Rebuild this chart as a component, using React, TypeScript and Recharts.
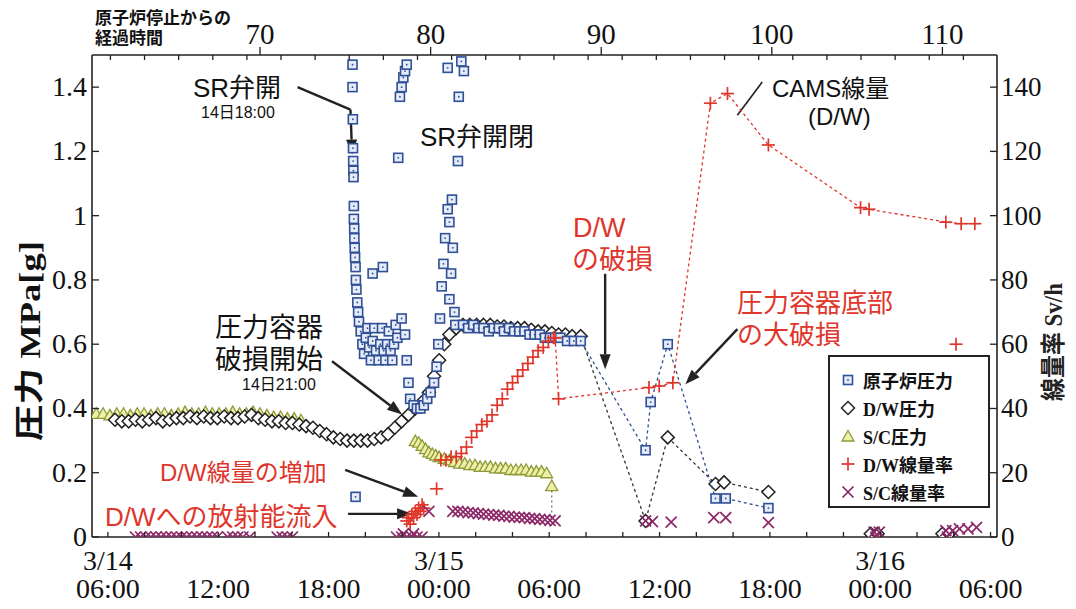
import React from 'react';
import { ComposedChart, Scatter, XAxis, YAxis, ReferenceLine } from 'recharts';

const W = 1060;
const H = 595;
const BLUE = '#2f4f96';
const BLACK = '#222222';
const OLIVE = '#8e9a38';
const RED = '#e0352b';
const PURPLE = '#8c2868';
const SERIF = "'Liberation Serif','Times New Roman',serif";
const SANS = "'Liberation Sans','Noto Sans CJK JP',sans-serif";
const JPSERIF = "'Liberation Serif','Noto Sans CJK JP',serif";

// ---- axis ticks ----
const topMajorTicks = [70, 80, 90, 100, 110];
const topMinorTicks = [61.23, 63.23, 65.23, 67.23, 69.23, 71.23, 73.23, 75.23, 77.23, 79.23, 81.23, 83.23, 85.23, 87.23, 89.23, 91.23, 93.23, 95.23, 97.23, 99.23, 101.23, 103.23, 105.23, 107.23, 109.23, 111.23];
const bottomTicks = [0, 2, 4, 6, 8, 10, 12, 14, 16, 18, 20, 22, 24, 26, 28, 30, 32, 34, 36, 38, 40, 42, 44, 46, 48];
const bottomLabelHours = [0, 6, 12, 18, 24, 30, 36, 42, 48];
const bottomDates = ['3/14', '', '', '3/15', '', '', '', '3/16', ''];
const bottomTimes = ['06:00', '12:00', '18:00', '00:00', '06:00', '12:00', '18:00', '00:00', '06:00'];
const leftTicks = [0, 0.2, 0.4, 0.6, 0.8, 1, 1.2, 1.4];
const rightTicks = [0, 20, 40, 60, 80, 100, 120, 140];

// ---- data: [hours since shutdown, value] ----
// 原子炉圧力 (MPa)
const reactorPressure = [
  [75.6, 0.125],
  [75.42, 1.47], [75.42, 1.4], [75.44, 1.3], [75.45, 1.21], [75.46, 1.17], [75.47, 1.14], [75.48, 1.12], [75.5, 1.03], [75.5, 0.99], [75.52, 0.96], [75.53, 0.93], [75.55, 0.9], [75.57, 0.87], [75.6, 0.84], [75.62, 0.8], [75.65, 0.77], [75.7, 0.73], [75.75, 0.7], [75.8, 0.67],
  [75.9, 0.64], [76.0, 0.6], [76.1, 0.57], [76.2, 0.62], [76.3, 0.65], [76.4, 0.59], [76.5, 0.55], [76.6, 0.61], [76.7, 0.65], [76.8, 0.58], [76.95, 0.55], [77.05, 0.6], [77.15, 0.65], [77.25, 0.58], [77.35, 0.55], [77.45, 0.6], [77.55, 0.64], [77.65, 0.58], [77.75, 0.55], [77.85, 0.6], [77.95, 0.66], [78.05, 0.62],
  [76.6, 0.82], [77.2, 0.84],
  [78.1, 1.18], [78.2, 1.37], [78.3, 1.4], [78.4, 1.43], [78.5, 1.45], [78.6, 1.47],
  [78.3, 0.68], [78.5, 0.63], [78.6, 0.55], [78.7, 0.48], [78.8, 0.43], [79.0, 0.41], [79.2, 0.4], [79.4, 0.4], [79.6, 0.41], [79.8, 0.43], [80.0, 0.45], [80.2, 0.48],
  [80.35, 0.53], [80.45, 0.6], [80.55, 0.68], [80.65, 0.78], [80.75, 0.85], [80.85, 0.93], [81.0, 1.02], [81.1, 0.98], [81.25, 1.05], [81.3, 0.9], [81.2, 0.82], [81.1, 0.74], [81.4, 0.7], [81.6, 1.17], [81.65, 1.37], [81.8, 1.48], [81.95, 1.45], [81.0, 1.46], [81.45, 0.66],
  [81.9, 0.66], [82.2, 0.65], [82.5, 0.66], [82.8, 0.65], [83.1, 0.65], [83.4, 0.64], [83.7, 0.65], [84.0, 0.65], [84.3, 0.64], [84.6, 0.65], [84.9, 0.64], [85.2, 0.64], [85.5, 0.64], [85.8, 0.63], [86.1, 0.63], [86.4, 0.63], [86.7, 0.62], [87.0, 0.62], [87.3, 0.62], [87.6, 0.62], [88.0, 0.61], [88.4, 0.61],
];
const reactorPressureLate = [[88.8, 0.61], [92.6, 0.27], [92.9, 0.42], [93.9, 0.6], [96.7, 0.12], [97.3, 0.12], [99.8, 0.09]];

// D/W圧力 (MPa)
const dwPressure = [
  [61.5, 0.365], [61.9, 0.36], [62.3, 0.36], [62.7, 0.365], [63.1, 0.36], [63.5, 0.365], [63.9, 0.37], [64.3, 0.36], [64.7, 0.365], [65.1, 0.37], [65.5, 0.37], [65.9, 0.375], [66.3, 0.37], [66.7, 0.375], [67.1, 0.37], [67.5, 0.37], [67.9, 0.375], [68.3, 0.37], [68.7, 0.37], [69.1, 0.375], [69.5, 0.38], [69.9, 0.37],
  [70.3, 0.365], [70.7, 0.36], [71.1, 0.36], [71.5, 0.355], [71.9, 0.355], [72.3, 0.35], [72.7, 0.345], [73.1, 0.34], [73.5, 0.33], [73.9, 0.32], [74.3, 0.31], [74.7, 0.305], [75.1, 0.3], [75.5, 0.3], [75.9, 0.3], [76.3, 0.3], [76.7, 0.305], [77.1, 0.31], [77.5, 0.32], [77.9, 0.34], [78.3, 0.36], [78.7, 0.38], [79.1, 0.4], [79.5, 0.42], [79.9, 0.45],
  [80.2, 0.5], [80.5, 0.55], [80.8, 0.6], [81.1, 0.63], [81.5, 0.65], [81.9, 0.66], [82.3, 0.66], [82.7, 0.66], [83.1, 0.66], [83.5, 0.66], [83.9, 0.655], [84.3, 0.655], [84.7, 0.65], [85.1, 0.65], [85.5, 0.65], [85.9, 0.645], [86.3, 0.64], [86.7, 0.64], [87.1, 0.635], [87.5, 0.63], [87.9, 0.63], [88.3, 0.625],
  [105.8, 0.01], [106.2, 0.01], [110.0, 0.01], [110.4, 0.01],
];
const dwPressureLate = [[88.8, 0.625], [92.6, 0.05], [93.9, 0.31], [96.7, 0.165], [97.2, 0.17], [99.8, 0.14]];

// S/C圧力 (MPa)
const scPressure = [
  [60.4, 0.385], [60.8, 0.385], [61.2, 0.38], [61.6, 0.385], [62.0, 0.385], [62.4, 0.38], [62.8, 0.385], [63.2, 0.385], [63.6, 0.38], [64.0, 0.385], [64.4, 0.385], [64.8, 0.38], [65.2, 0.385], [65.6, 0.39], [66.0, 0.385], [66.4, 0.385], [66.8, 0.39], [67.2, 0.385], [67.6, 0.385], [68.0, 0.385], [68.4, 0.39], [68.8, 0.385], [69.2, 0.385], [69.6, 0.39], [70.0, 0.385], [70.4, 0.38], [70.8, 0.375], [71.2, 0.375], [71.6, 0.37], [72.0, 0.37], [72.4, 0.365],
  [79.1, 0.3], [79.3, 0.295], [79.5, 0.285], [79.7, 0.275], [79.9, 0.265], [80.1, 0.26], [80.3, 0.255], [80.5, 0.25], [80.8, 0.245], [81.1, 0.24], [81.4, 0.235], [81.7, 0.23], [82.0, 0.23], [82.3, 0.225], [82.6, 0.225], [82.9, 0.22], [83.2, 0.22], [83.5, 0.22], [83.8, 0.215], [84.1, 0.215], [84.4, 0.215], [84.7, 0.21], [85.0, 0.21], [85.3, 0.21], [85.6, 0.21], [85.9, 0.205], [86.2, 0.205], [86.5, 0.205], [86.8, 0.2],
  [87.1, 0.16],
];

// D/W線量率 (Sv/h)
const dwDose = [
  [78.6, 5], [78.7, 6], [78.8, 4], [78.9, 7], [79.0, 6], [79.1, 8], [79.2, 7], [79.3, 9], [79.4, 8], [79.5, 10], [79.6, 9],
  [80.35, 15],
  [80.6, 24], [80.9, 24], [81.2, 25], [81.5, 25], [81.8, 26], [82.1, 28], [82.4, 31], [82.7, 33], [83.0, 35], [83.3, 36], [83.6, 38], [83.9, 41], [84.2, 43], [84.5, 46], [84.8, 48], [85.1, 50], [85.4, 52], [85.7, 54], [86.0, 56], [86.3, 58], [86.6, 59], [86.9, 61], [87.2, 62],
  [110.8, 60],
];
const dwDoseLate = [[87.3, 62], [87.5, 43], [92.8, 46.5], [93.4, 47], [94.2, 48], [96.4, 135], [97.4, 138], [99.8, 122], [105.2, 102.5], [105.7, 102], [110.2, 98], [111.1, 97.5], [111.9, 97.5]];

// S/C線量率 (Sv/h)
const scDose = [
  [62.7, 0], [63.0, 0], [63.3, 0], [63.6, 0], [63.9, 0], [64.2, 0], [64.5, 0], [64.8, 0], [65.1, 0], [65.4, 0], [65.7, 0], [66.0, 0], [66.3, 0], [66.6, 0], [66.9, 0], [67.2, 0], [67.5, 0], [68.1, 0], [68.4, 0], [68.7, 0], [69.0, 0], [69.4, 0], [71.0, 0], [71.3, 0], [71.6, 0], [71.9, 0],
  [78.0, 0], [78.3, 0], [78.6, 0], [78.9, 0], [79.2, 0], [79.5, 0], [78.4, 1], [79.0, 1],
  [79.9, 8],
  [81.3, 8], [81.6, 8], [81.9, 7.8], [82.2, 7.6], [82.5, 7.5], [82.8, 7.3], [83.1, 7.1], [83.4, 7.0], [83.7, 6.8], [84.0, 6.7], [84.3, 6.5], [84.6, 6.4], [84.9, 6.2], [85.2, 6.1], [85.5, 6.0], [85.8, 5.8], [86.1, 5.7], [86.4, 5.5], [86.7, 5.4], [87.0, 5.2], [87.3, 5.0],
  [92.6, 5], [93.0, 4.8], [94.1, 4.6], [96.6, 6], [97.3, 6], [99.8, 4.5],
  [106.0, 1.5], [106.3, 1.5], [106.1, 0], [110.2, 2], [110.6, 2], [111.0, 2.5], [111.5, 2.5], [112.0, 3], [110.3, 0],
];

const toPts = (arr: number[][]) => arr.map(([x, y]) => ({ x, y }));

// ---- marker shapes ----
const SquareShape = (p: any) => (
  <g>
    <rect x={p.cx - 4.5} y={p.cy - 4.5} width={9} height={9} fill="#e6ecf7" stroke={BLUE} strokeWidth={1.6} />
    <circle cx={p.cx} cy={p.cy} r={0.9} fill={BLUE} />
  </g>
);
const DiamondShape = (p: any) => (
  <path d={`M${p.cx},${p.cy - 6.5} L${p.cx + 6.5},${p.cy} L${p.cx},${p.cy + 6.5} L${p.cx - 6.5},${p.cy} Z`} fill="#ffffff" stroke={BLACK} strokeWidth={1.5} />
);
const TriangleShape = (p: any) => (
  <path d={`M${p.cx},${p.cy - 5.5} L${p.cx + 6},${p.cy + 5} L${p.cx - 6},${p.cy + 5} Z`} fill="#eef0a8" stroke={OLIVE} strokeWidth={1.3} />
);
const PlusShape = (p: any) => (
  <g stroke={RED} strokeWidth={1.7}>
    <line x1={p.cx - 6.5} y1={p.cy} x2={p.cx + 6.5} y2={p.cy} />
    <line x1={p.cx} y1={p.cy - 6.5} x2={p.cx} y2={p.cy + 6.5} />
  </g>
);
const XShape = (p: any) => (
  <g stroke={PURPLE} strokeWidth={1.7}>
    <line x1={p.cx - 5.5} y1={p.cy - 5.5} x2={p.cx + 5.5} y2={p.cy + 5.5} />
    <line x1={p.cx - 5.5} y1={p.cy + 5.5} x2={p.cx + 5.5} y2={p.cy - 5.5} />
  </g>
);

const ArrowShape = (props: any) => {
  const { x1, y1, x2, y2 } = props;
  const a = Math.atan2(y2 - y1, x2 - x1);
  const L = 15;
  const Wd = 5.5;
  const bx = x2 - L * Math.cos(a);
  const by = y2 - L * Math.sin(a);
  const px = Math.sin(a) * Wd;
  const py = -Math.cos(a) * Wd;
  return (
    <g>
      <line x1={x1} y1={y1} x2={bx} y2={by} stroke={BLACK} strokeWidth={2.4} />
      <polygon points={`${x2},${y2} ${bx + px},${by + py} ${bx - px},${by - py}`} fill={BLACK} />
    </g>
  );
};

// ---- custom ticks ----
const TopTick = (props: any) => {
  const { x, y, payload } = props;
  const v = payload.value;
  const major = topMajorTicks.indexOf(v) >= 0;
  if (major) {
    return (
      <g>
        <line x1={x} y1={y} x2={x} y2={y - 8} stroke={BLACK} strokeWidth={1.3} />
        <text x={x} y={y - 11} textAnchor="middle" fontFamily={SERIF} fontSize={29} fill="#111">{v}</text>
      </g>
    );
  }
  return <line x1={x} y1={y} x2={x} y2={y + 5} stroke={BLACK} strokeWidth={1.3} />;
};

const BottomTick = (props: any) => {
  const { x, y, payload } = props;
  const v = payload.value;
  const i = bottomLabelHours.indexOf(v);
  return (
    <g>
      <line x1={x} y1={y} x2={x} y2={y - 5} stroke={BLACK} strokeWidth={1.3} />
      {i >= 0 && bottomDates[i] ? (
        <text x={x} y={y + 33} textAnchor="middle" fontFamily={SERIF} fontSize={28} fill="#111">{bottomDates[i]}</text>
      ) : null}
      {i >= 0 ? (
        <text x={x} y={y + 61} textAnchor="middle" fontFamily={SERIF} fontSize={28} fill="#111">{bottomTimes[i]}</text>
      ) : null}
    </g>
  );
};

const LeftTick = (props: any) => {
  const { x, y, payload } = props;
  return (
    <g>
      <line x1={x} y1={y} x2={x + 7} y2={y} stroke={BLACK} strokeWidth={1.3} />
      <text x={x - 5} y={y + 9} textAnchor="end" fontFamily={SERIF} fontSize={28} fill="#111">{payload.value}</text>
    </g>
  );
};

const RightTick = (props: any) => {
  const { x, y, payload } = props;
  return (
    <g>
      <line x1={x} y1={y} x2={x - 7} y2={y} stroke={BLACK} strokeWidth={1.3} />
      <text x={x + 4} y={y + 9} textAnchor="start" fontFamily={SERIF} fontSize={27} fill="#111">{payload.value}</text>
    </g>
  );
};

const legendItems = [
  { label: '原子炉圧力', kind: 'square' },
  { label: 'D/W圧力', kind: 'diamond' },
  { label: 'S/C圧力', kind: 'triangle' },
  { label: 'D/W線量率', kind: 'plus' },
  { label: 'S/C線量率', kind: 'x' },
];

const LegendSymbol = ({ kind }: { kind: string }) => {
  const p = { cx: 10, cy: 10 };
  return (
    <svg width={20} height={20} style={{ display: 'block' }}>
      {kind === 'square' && <SquareShape {...p} />}
      {kind === 'diamond' && <DiamondShape {...p} />}
      {kind === 'triangle' && <TriangleShape {...p} />}
      {kind === 'plus' && <PlusShape {...p} />}
      {kind === 'x' && <XShape {...p} />}
    </svg>
  );
};

type Ann = { t: string; x: number; y: number; s: number; c: string };
const annotations: Ann[] = [
  { t: 'SR弁開', x: 185, y: 89, s: 26, c: '#111' },
  { t: '14日18:00', x: 193, y: 110, s: 16, c: '#111' },
  { t: 'SR弁開閉', x: 412, y: 138, s: 26, c: '#111' },
  { t: 'CAMS線量', x: 764, y: 89, s: 24, c: '#111' },
  { t: '(D/W)', x: 800, y: 117, s: 24, c: '#111' },
  { t: 'D/W', x: 565, y: 229, s: 27, c: RED },
  { t: 'の破損', x: 564, y: 261, s: 27, c: RED },
  { t: '圧力容器底部', x: 729, y: 304, s: 26, c: RED },
  { t: 'の大破損', x: 729, y: 336, s: 26, c: RED },
  { t: '圧力容器', x: 207, y: 329, s: 27, c: '#111' },
  { t: '破損開始', x: 207, y: 361, s: 27, c: '#111' },
  { t: '14日21:00', x: 234, y: 382, s: 16, c: '#111' },
  { t: 'D/W線量の増加', x: 152, y: 473, s: 24, c: RED },
  { t: 'D/Wへの放射能流入', x: 97, y: 518, s: 26, c: RED },
];

export default function App() {
  return (
    <div style={{ position: 'relative', width: W, height: H, background: '#fff' }}>
      <ComposedChart width={W} height={H} margin={{ top: 7, right: 11, bottom: 6, left: 0 }}>
        <XAxis xAxisId="top" orientation="top" type="number" dataKey="x" domain={[60.15, 113.2]} allowDataOverflow
          ticks={[...topMinorTicks, ...topMajorTicks].sort((a, b) => a - b)} interval={0} tickSize={0} tickMargin={0}
          tick={<TopTick />} tickLine={false} axisLine={{ stroke: BLACK, strokeWidth: 1.6 }} height={40} />
        <XAxis xAxisId="bottom" orientation="bottom" type="number" dataKey="x" domain={[-0.865, 48.35]} allowDataOverflow
          ticks={bottomTicks} interval={0} tickSize={0} tickMargin={0}
          tick={<BottomTick />} tickLine={false} axisLine={{ stroke: BLACK, strokeWidth: 1.6 }} height={60} />
        <YAxis yAxisId="left" orientation="left" type="number" dataKey="y" domain={[0, 1.5]} allowDataOverflow
          ticks={leftTicks} interval={0} tickSize={0} tickMargin={0}
          tick={<LeftTick />} tickLine={false} axisLine={{ stroke: BLACK, strokeWidth: 1.6 }} width={84} />
        <YAxis yAxisId="right" orientation="right" type="number" dataKey="y" domain={[0, 150]} allowDataOverflow
          ticks={rightTicks} interval={0} tickSize={0} tickMargin={0}
          tick={<RightTick />} tickLine={false} axisLine={{ stroke: BLACK, strokeWidth: 1.6 }} width={60} />

        <Scatter xAxisId="bottom" yAxisId="left" data={[]} isAnimationActive={false} />

        <Scatter name="S/C圧力" xAxisId="top" yAxisId="left" data={toPts(scPressure)} shape={TriangleShape} isAnimationActive={false} />
        <Scatter name="D/W圧力" xAxisId="top" yAxisId="left" data={toPts(dwPressure)} shape={DiamondShape} isAnimationActive={false} />
        <Scatter name="D/W圧力2" xAxisId="top" yAxisId="left" data={toPts(dwPressureLate)} shape={DiamondShape}
          line={{ stroke: '#333', strokeDasharray: '3 3', strokeWidth: 1.3 }} isAnimationActive={false} />
        <Scatter name="原子炉圧力" xAxisId="top" yAxisId="left" data={toPts(reactorPressure)} shape={SquareShape} isAnimationActive={false} />
        <Scatter name="原子炉圧力2" xAxisId="top" yAxisId="left" data={toPts(reactorPressureLate)} shape={SquareShape}
          line={{ stroke: BLUE, strokeDasharray: '3 3', strokeWidth: 1.3 }} isAnimationActive={false} />
        <Scatter name="D/W線量率" xAxisId="top" yAxisId="right" data={toPts(dwDose)} shape={PlusShape} isAnimationActive={false} />
        <Scatter name="D/W線量率2" xAxisId="top" yAxisId="right" data={toPts(dwDoseLate)} shape={PlusShape}
          line={{ stroke: RED, strokeDasharray: '3 3', strokeWidth: 1.3 }} isAnimationActive={false} />
        <Scatter name="S/C線量率" xAxisId="top" yAxisId="right" data={toPts(scDose)} shape={XShape} isAnimationActive={false} />

        <ReferenceLine xAxisId="top" yAxisId="left" segment={[{ x: 87.1, y: 0.16 }, { x: 87.1, y: 0.055 }]} stroke="#666" strokeDasharray="2 3" strokeWidth={1.2} />
        <ReferenceLine xAxisId="top" yAxisId="left" segment={[{ x: 72.2, y: 1.40 }, { x: 75.3, y: 1.33 }]} stroke={BLACK} strokeWidth={2.4} />
        <ReferenceLine xAxisId="top" yAxisId="left" segment={[{ x: 75.3, y: 1.33 }, { x: 75.4, y: 1.19 }]} shape={ArrowShape} />
        <ReferenceLine xAxisId="top" yAxisId="left" segment={[{ x: 99.44, y: 1.416 }, { x: 97.98, y: 1.3125 }]} stroke={BLACK} strokeWidth={1.6} />
        <ReferenceLine xAxisId="top" yAxisId="left" segment={[{ x: 90.23, y: 0.819 }, { x: 90.23, y: 0.522 }]} shape={ArrowShape} />
        <ReferenceLine xAxisId="top" yAxisId="left" segment={[{ x: 97.98, y: 0.647 }, { x: 94.93, y: 0.475 }]} shape={ArrowShape} />
        <ReferenceLine xAxisId="top" yAxisId="left" segment={[{ x: 74.22, y: 0.547 }, { x: 78.33, y: 0.381 }]} shape={ArrowShape} />
        <ReferenceLine xAxisId="top" yAxisId="left" segment={[{ x: 74.99, y: 0.209 }, { x: 79.27, y: 0.125 }]} shape={ArrowShape} />
        <ReferenceLine xAxisId="top" yAxisId="left" segment={[{ x: 75.16, y: 0.072 }, { x: 78.91, y: 0.072 }]} shape={ArrowShape} />
      </ComposedChart>

      <svg width={W} height={H} style={{ position: 'absolute', left: 0, top: 0, pointerEvents: 'none' }}>
        <text x={87} y={16} fontFamily={JPSERIF} fontWeight={700} fontSize={17} fill="#111">原子炉停止からの</text>
        <text x={87} y={36} fontFamily={JPSERIF} fontWeight={700} fontSize={17} fill="#111">経過時間</text>
        <text transform="translate(32,333) rotate(-90)" textAnchor="middle" fontFamily={JPSERIF} fontWeight={700} fontSize={29} fill="#111"
          textLength={200} lengthAdjust="spacingAndGlyphs">圧力 MPa[g]</text>
        <text transform="translate(1054,334) rotate(-90)" textAnchor="middle" fontFamily={JPSERIF} fontWeight={700} fontSize={25} fill="#222"
          textLength={118} lengthAdjust="spacingAndGlyphs">線量率 Sv/h</text>
        {annotations.map((a, i) => (
          <text key={i} x={a.x} y={a.y} fontFamily={SANS} fontSize={a.s} fill={a.c}>{a.t}</text>
        ))}
      </svg>

      <div style={{ position: 'absolute', left: 820, top: 347, width: 162, height: 153, border: '2px solid #222', background: '#fff', boxSizing: 'border-box', padding: '9px 0 0 8px' }}>
        {legendItems.map((it) => (
          <div key={it.label} style={{ display: 'flex', alignItems: 'center', height: 28 }}>
            <LegendSymbol kind={it.kind} />
            <span style={{ marginLeft: 5, fontFamily: JPSERIF, fontWeight: 700, fontSize: 18, color: '#111', whiteSpace: 'nowrap' }}>{it.label}</span>
          </div>
        ))}
      </div>
    </div>
  );
}
